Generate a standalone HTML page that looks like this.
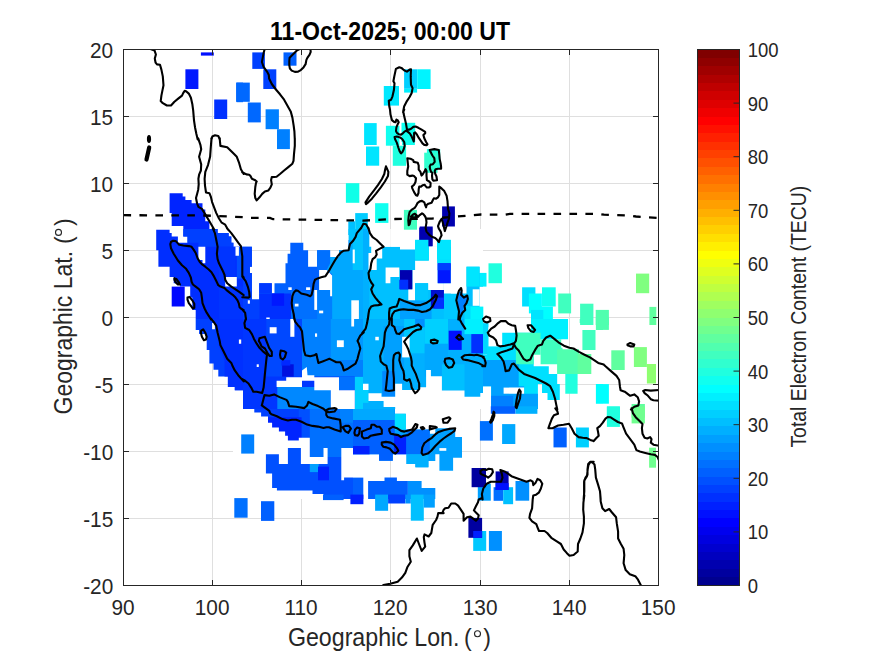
<!DOCTYPE html><html><head><meta charset="utf-8"><style>html,body{margin:0;padding:0;background:#fff;width:875px;height:656px;overflow:hidden}svg{display:block}text{font-family:"Liberation Sans",sans-serif}</style></head><body><svg width="875" height="656" viewBox="0 0 875 656"><rect width="875" height="656" fill="#fff"/><defs><clipPath id="ax"><rect x="123.5" y="49.5" width="535" height="536"/></clipPath></defs><path d="M212.5 49.5V585.5M301.5 49.5V585.5M390.5 49.5V585.5M480.5 49.5V585.5M569.5 49.5V585.5M123.5 116.5H658.5M123.5 183.5H658.5M123.5 250.5H658.5M123.5 317.5H658.5M123.5 384.5H658.5M123.5 451.5H658.5M123.5 518.5H658.5" stroke="#dfdfdf" stroke-width="1" fill="none"/><g clip-path="url(#ax)"><defs><clipPath id="c0"><rect x="123" y="139" width="120" height="90"/></clipPath><clipPath id="c1"><rect x="123" y="229" width="120" height="90"/></clipPath><clipPath id="c2"><rect x="243" y="229" width="120" height="90"/></clipPath><clipPath id="c3"><rect x="363" y="229" width="120" height="90"/></clipPath><clipPath id="c4"><rect x="123" y="319" width="120" height="90"/></clipPath><clipPath id="c5"><rect x="243" y="319" width="120" height="90"/></clipPath><clipPath id="c6"><rect x="363" y="319" width="120" height="90"/></clipPath><clipPath id="c7"><rect x="483" y="319" width="120" height="90"/></clipPath><clipPath id="c8"><rect x="233" y="409" width="120" height="90"/></clipPath><clipPath id="c9"><rect x="353" y="409" width="120" height="90"/></clipPath></defs><rect x="200.9" y="52.4" width="12.9" height="3.2" fill="#0010ff"/><rect x="185.4" y="69.3" width="13" height="19.7" fill="#0018ff"/><rect x="214.2" y="99.5" width="13" height="19.5" fill="#0030ff"/><rect x="236.6" y="82.6" width="6.4" height="19.6" fill="#0068ff"/><rect x="252.3" y="52.4" width="12.6" height="16.5" fill="#0040ff"/><rect x="263.3" y="69.3" width="13" height="19.7" fill="#0040ff"/><rect x="283.5" y="52.4" width="13" height="13.3" fill="#0060ff"/><rect x="236.1" y="82.6" width="13.7" height="19.2" fill="#0068ff"/><rect x="247.8" y="102.5" width="13" height="19.9" fill="#0068ff"/><rect x="265.6" y="109.3" width="13.3" height="19.9" fill="#0080ff"/><rect x="277" y="129.2" width="12.9" height="19.9" fill="#0080ff"/><rect x="404.1" y="69.3" width="13" height="19.5" fill="#00cfff"/><rect x="404.1" y="88.8" width="13" height="3.8" fill="#00efff"/><rect x="417.2" y="69.3" width="13.4" height="19.7" fill="#00f4ff"/><rect x="383.8" y="86" width="15.2" height="19.6" fill="#00e8ff"/><rect x="364.1" y="123.1" width="12.6" height="21.9" fill="#00e5ff"/><rect x="386" y="125.8" width="13.3" height="19.2" fill="#18ffe7"/><rect x="402.1" y="123.1" width="12.8" height="21.9" fill="#10fff0"/><g clip-path="url(#c0)"><path d="M169.6 193.2 182.7 193.2 182.7 196.6 185.4 196.6 185.4 200 191.6 200 191.6 203.2 202.5 203.2 202.5 209.6 205.3 209.6 205.3 221.3 209.4 221.3 209.4 235 183.3 235 183.3 226.1 171.7 226.1 171.7 213.1 169.6 213.1Z" fill="#0024ff"/></g><rect x="345.9" y="183.2" width="13.4" height="19.6" fill="#10ffe8"/><rect x="348.3" y="221.3" width="6.9" height="13.7" fill="#00c0ff"/><rect x="355.2" y="213.1" width="12.6" height="21.9" fill="#00ccff"/><rect x="366" y="146.5" width="13.2" height="19.2" fill="#00e5ff"/><rect x="375.1" y="203.2" width="13.3" height="19.7" fill="#10fff0"/><g clip-path="url(#c1)"><path d="M156.2 229.7 169.6 229.7 169.6 233.1 171.7 233.1 171.7 236.5 177.9 236.5 177.9 242.7 187.5 242.7 187.5 236.5 183.3 236.5 183.3 227.6 210.8 227.6 210.8 229 217.6 229 217.6 233.1 228.6 233.1 228.6 236.5 231.3 236.5 231.3 242.7 233.4 242.7 233.4 246.8 245.1 246.8 245.1 320.9 195.7 320.9 195.7 309.9 192.3 309.9 192.3 297.6 190.2 297.6 190.2 286.6 179.9 286.6 179.9 283.2 173.7 283.2 173.7 277 169.6 277 169.6 266.7 158.4 266.7 158.4 250.3 156.2 250.3Z" fill="#002eff"/><path d="M183.3 227.6 210.8 227.6 210.8 229 217.6 229 217.6 233.1 228.6 233.1 228.6 236.5 231.3 236.5 231.3 242.7 233.4 242.7 233.4 246.8 198.4 246.8 198.4 242.7 187.5 242.7 187.5 236.5 183.3 236.5Z" fill="#0040ff"/><path d="M217.6 246.8 235.5 246.8 235.5 286.6 219 286.6 219 270.1 217.6 270.1Z" fill="#0034ff"/><path d="M236.8 246.8 245.1 246.8 245.1 278.4 236.8 278.4Z" fill="#0050ff"/><path d="M219 286.6 245.1 286.6 245.1 320.9 219 320.9Z" fill="#0034ff"/><path d="M198.4 246.8 205.3 246.8 205.3 263.3 202.5 263.3 202.5 259.9 198.4 259.9Z" fill="#ffffff"/><path d="M225.2 277 236.8 277 236.8 286.6 225.2 286.6Z" fill="#ffffff"/><path d="M235.5 246.8 238.9 246.8 238.9 255.7 235.5 255.7Z" fill="#ffffff"/></g><rect x="171.7" y="286.6" width="13" height="19.9" fill="#0008ff"/><g clip-path="url(#c2)"><path d="M285.5 263.3 287.6 263.3 287.6 253.7 290.3 253.7 290.3 242.7 303.3 242.7 303.3 250.3 308.1 250.3 308.1 266.7 317.1 266.7 317.1 250.3 330.1 250.3 330.1 257.1 339 257.1 339 250.3 348.6 250.3 348.6 240 353.4 240 353.4 227.6 365.1 227.6 365.1 320.9 241.6 320.9 241.6 246.8 251.9 246.8 251.9 266.7 249.9 266.7 249.9 272.9 251.9 272.9 251.9 299.6 259.2 299.6 259.2 283.2 271.8 283.2 271.8 293.5 274.5 293.5 274.5 283.2 285.5 283.2Z" fill="#0060ff"/><path d="M241.6 246.8 251.9 246.8 251.9 266.7 249.9 266.7 249.9 272.9 251.9 272.9 251.9 299.6 259.2 299.6 259.2 320.9 241.6 320.9Z" fill="#0040ff"/><path d="M259.2 293.5 291 293.5 291 320.9 259.2 320.9Z" fill="#0030ff"/><path d="M259.2 283.2 271.8 283.2 271.8 293.5 259.2 293.5Z" fill="#0038ff"/><path d="M271.8 293.5 284.1 293.5 284.1 305.8 271.8 305.8Z" fill="#0018ff"/><path d="M317.1 250.3 330.1 250.3 330.1 270.1 317.1 270.1Z" fill="#0070ff"/><path d="M291 290.7 317.1 290.7 317.1 320.9 291 320.9Z" fill="#0070ff"/><path d="M317.1 290 332.1 290 332.1 320.9 317.1 320.9Z" fill="#0080ff"/><path d="M330.1 257.1 339 257.1 339 250.3 348.6 250.3 348.6 240 353.4 240 353.4 227.6 365.1 227.6 365.1 320.9 332.1 320.9 332.1 274.3 326.7 270.1 330.1 263.3Z" fill="#00a8ff"/><path d="M348.6 227.6 365.1 227.6 365.1 270.1 352.7 270.1 352.7 240 348.6 240Z" fill="#00c4ff"/><path d="M319.1 270.1 326.7 270.1 332.1 275.6 332.1 296.2 330.1 296.2 330.1 290 319.1 290Z" fill="#ffffff"/><path d="M314.3 290 317.1 290 317.1 309.9 314.3 309.9Z" fill="#ffffff"/><path d="M288.3 287.3 291.7 287.3 291.7 290 288.3 290Z" fill="#ffffff"/><path d="M306.1 287.3 310.2 287.3 310.2 290 306.1 290Z" fill="#ffffff"/><path d="M294.8 303.7 298.5 303.7 298.5 306.5 294.8 306.5Z" fill="#ffffff"/><path d="M319.1 310.6 323.2 310.6 323.2 313.3 319.1 313.3Z" fill="#ffffff"/><path d="M351.3 300.3 358.9 300.3 358.9 320.9 351.3 320.9Z" fill="#ffffff"/><path d="M352.7 249.6 354.8 249.6 354.8 263.3 352.7 263.3Z" fill="#ffffff"/><path d="M247.8 300.3 249.9 300.3 249.9 303.7 247.8 303.7Z" fill="#ffffff"/><path d="M266.3 317.5 269.7 317.5 269.7 320.9 266.3 320.9Z" fill="#ffffff"/></g><g clip-path="url(#c3)"><path d="M361.6 227.6 369.2 227.6 369.2 246.8 485.1 246.8 485.1 320.9 361.6 320.9Z" fill="#00c0ff"/><path d="M361.6 227.6 369.2 227.6 369.2 320.9 361.6 320.9Z" fill="#00b0ff"/><path d="M400 300.3 431.6 300.3 431.6 320.9 400 320.9Z" fill="#00a0ff"/><path d="M443.9 293.5 457.6 293.5 457.6 320.9 443.9 320.9Z" fill="#00c8ff"/><path d="M464.5 305.8 485.1 305.8 485.1 320.9 464.5 320.9Z" fill="#00d8ff"/><path d="M369.2 227.6 390.4 227.6 390.4 246.8 382.2 246.8 382.2 258.5 376.7 258.5 376.7 270.1 368.5 270.1 368.5 253 371.2 253 371.2 237.2 369.2 234.5Z" fill="#ffffff"/><path d="M390.4 227.6 419.2 227.6 419.2 240 415.1 240 415.1 249.6 400 249.6 400 246.8 390.4 246.8Z" fill="#ffffff"/><path d="M432.3 227.6 485.1 227.6 485.1 272.9 479.6 272.9 479.6 266.7 466.5 266.7 466.5 293.5 450.8 293.5 450.8 240 437.1 240 437.1 246.8 432.3 246.8Z" fill="#ffffff"/><path d="M428.8 246.8 437.7 246.8 437.7 283.2 443.9 283.2 443.9 290 428.1 290 428.1 283.2 415.1 283.2 415.1 300.3 408.3 300.3 408.3 289.3 412.4 289.3 412.4 270.1 415.1 270.1 415.1 260.5 428.8 260.5Z" fill="#ffffff"/><path d="M385.6 267.4 399.3 267.4 399.3 277 390.4 277 390.4 283.2 385.6 283.2Z" fill="#ffffff"/><path d="M443.9 283.2 457.6 283.2 457.6 293.5 443.9 293.5Z" fill="#ffffff"/><path d="M472.7 289.3 479.6 289.3 479.6 305.8 472.7 305.8Z" fill="#ffffff"/><path d="M479.6 286.6 485.1 286.6 485.1 320.9 479.6 320.9Z" fill="#ffffff"/><path d="M459 292.1 461.7 290.7 463.8 297.6 467.2 295.5 467.9 298.9 464.5 305.8 462.4 312.7 460.4 316.8 459 311.3 457.6 305.8 457.6 294.8Z" fill="#0080ff"/></g><rect x="415.1" y="240" width="13.7" height="20.6" fill="#00e0ff"/><rect x="437.1" y="240" width="13.7" height="23.3" fill="#00e2ff"/><rect x="466.5" y="266.7" width="13" height="19.9" fill="#00e5ff"/><rect x="479.6" y="272.9" width="6.9" height="13.7" fill="#00f0ff"/><rect x="415.1" y="283.2" width="13" height="17.1" fill="#00c8ff"/><rect x="419.2" y="227.6" width="13" height="18.5" fill="#0000bf"/><rect x="419.2" y="240" width="9.6" height="6.2" fill="#0028ff"/><rect x="400" y="270.1" width="12.3" height="19.2" fill="#0000af"/><rect x="399.3" y="279.7" width="8.9" height="9.6" fill="#0030ff"/><rect x="437.7" y="263.3" width="13" height="19.9" fill="#0018ff"/><rect x="437.7" y="263.3" width="13" height="6.9" fill="#0040ff"/><rect x="430.9" y="290" width="13" height="18.5" fill="#0010cf"/><rect x="434.3" y="297.6" width="9.6" height="11" fill="#0030ff"/><rect x="470.5" y="306.6" width="12.8" height="20" fill="#00f5ff"/><rect x="488.5" y="263.3" width="13.4" height="19.9" fill="#20ffdf"/><rect x="522.1" y="287.3" width="13.3" height="19.2" fill="#00dfff"/><rect x="542" y="287.3" width="13.7" height="19.2" fill="#10ffef"/><rect x="528.9" y="293.5" width="13" height="19.9" fill="#00ffff"/><rect x="539.9" y="306.5" width="13" height="18.5" fill="#00ffff"/><rect x="531" y="309.9" width="12.3" height="15.1" fill="#00e5ff"/><rect x="558.2" y="293.5" width="12.9" height="19.9" fill="#40ffbf"/><rect x="580.1" y="303.7" width="13.3" height="21.3" fill="#40ffbf"/><rect x="595.7" y="309.9" width="13.2" height="15.1" fill="#50ffaf"/><rect x="636" y="273.6" width="13.2" height="19.6" fill="#80ff80"/><rect x="649.4" y="306.9" width="6.9" height="18.1" fill="#60ff9f"/><g clip-path="url(#c4)"><path d="M195.7 317.6 195.7 330 199.1 330 199.1 334.1 206.7 334.1 206.7 349.9 209.4 349.9 209.4 363.6 213.5 363.6 213.5 369.7 218.3 369.7 218.3 376.6 227.9 376.6 227.9 386.9 234.8 386.9 234.8 390.3 245.1 390.3 245.1 317.6Z" fill="#0040ff"/><path d="M213.5 317.6 245.1 317.6 245.1 390.3 234.8 390.3 234.8 386.9 227.9 386.9 227.9 376.6 224.5 376.6 224.5 360.1 219 346.4 217.6 332.7Z" fill="#0030ff"/><path d="M212.1 323.1 214.9 323.1 214.9 329.3 212.1 329.3Z" fill="#ffffff"/><path d="M238.9 339.6 241.2 339.6 241.2 343.7 238.9 343.7Z" fill="#ffffff"/></g><g clip-path="url(#c5)"><path d="M241.6 317.6 365.1 317.6 365.1 410.9 241.6 410.9Z" fill="#0036ff"/><path d="M266.3 317.6 302 317.6 302 376.6 266.3 376.6Z" fill="#0048ff"/><path d="M302 317.6 365.1 317.6 365.1 376.6 302 376.6Z" fill="#0080ff"/><path d="M330.8 317.6 365.1 317.6 365.1 360.1 330.8 360.1Z" fill="#0098ff"/><path d="M282.1 364.3 293.7 364.3 293.7 376.6 282.1 376.6Z" fill="#0010df"/><path d="M281.4 360.1 290.3 360.1 290.3 365.6 281.4 365.6Z" fill="#0028ff"/><path d="M277.3 386.9 330.8 386.9 330.8 410.9 277.3 410.9Z" fill="#0088ff"/><path d="M339 376.6 354.8 376.6 354.8 390.3 339 390.3Z" fill="#0070ff"/><path d="M354.8 376.6 365.1 376.6 365.1 410.9 354.8 410.9Z" fill="#00d0ff"/><path d="M276.6 380.7 286.2 380.7 286.2 377.3 302 377.3 302 370.4 306.8 367 307.5 375.2 314.3 375.2 314.3 377.3 339 377.3 339 390.3 354.8 390.3 354.8 410.9 330.8 410.9 330.8 390.3 314.3 390.3 314.3 380.7 302 380.7 302 386.9 276.6 386.9Z" fill="#ffffff"/><path d="M269.7 327.2 276.6 327.2 276.6 333.4 269.7 333.4Z" fill="#ffffff"/><path d="M290.3 317.6 294.4 317.6 294.4 336.8 290.3 336.8Z" fill="#ffffff"/><path d="M315 333.4 317.1 333.4 317.1 336.8 315 336.8Z" fill="#ffffff"/><path d="M336.9 340.3 343.8 340.3 343.8 347.1 336.9 347.1Z" fill="#ffffff"/><path d="M351.3 317.6 354.1 317.6 354.1 326.5 351.3 326.5Z" fill="#ffffff"/><path d="M256.7 364.3 258.8 364.3 258.8 367 256.7 367Z" fill="#ffffff"/></g><g clip-path="url(#c6)"><path d="M361.6 317.6 485.1 317.6 485.1 410.9 361.6 410.9Z" fill="#00b0ff"/><path d="M383.6 325.9 404.1 325.9 404.1 383.5 383.6 383.5Z" fill="#00a0ff"/><path d="M382.2 371.1 395.2 371.1 395.2 396.8 382.2 396.8Z" fill="#0088ff"/><path d="M404.1 317.6 424.7 317.6 424.7 353.3 404.1 353.3Z" fill="#00c8ff"/><path d="M415.1 317.6 426.1 317.6 426.1 327.2 415.1 327.2Z" fill="#0090ff"/><path d="M424.7 317.6 448 317.6 448 346.4 424.7 346.4Z" fill="#00d0ff"/><path d="M424.7 343.7 448 343.7 448 376.6 424.7 376.6Z" fill="#00a8ff"/><path d="M464.5 317.6 485.1 317.6 485.1 334.1 464.5 334.1Z" fill="#00f0ff"/><path d="M441.9 364.3 464.5 364.3 464.5 390.3 441.9 390.3Z" fill="#00c0ff"/><path d="M361.6 389.9 368.5 389.9 368.5 402.9 361.6 402.9Z" fill="#00d0ff"/><path d="M361.6 383.7 368.5 383.7 368.5 393.3 381.5 393.3 381.5 396.8 395.2 396.8 395.2 383.7 402.1 383.7 402.1 389.9 419.2 389.9 419.2 387.2 426.1 387.2 426.1 370 430.9 370 430.9 376.2 441.9 376.2 441.9 390.6 464.5 390.6 464.5 396.8 480.3 396.8 480.3 393.1 485.1 393.1 485.1 410.9 395.2 410.9 395.2 407 383.6 407 383.6 400.9 368.5 400.9 368.5 389.9 361.6 389.9Z" fill="#ffffff"/><path d="M375.3 336.8 378.8 336.8 378.8 340.3 375.3 340.3Z" fill="#ffffff"/><path d="M402.1 336.8 409.6 336.8 409.6 357.4 402.1 357.4Z" fill="#ffffff"/></g><rect x="448.7" y="330.7" width="13" height="19.2" fill="#0010ff"/><rect x="471.3" y="334.1" width="13.7" height="19.2" fill="#0030ff"/><g clip-path="url(#c7)"><path d="M481.6 323.1 488.5 323.1 488.5 354.7 481.6 354.7Z" fill="#00d8ff"/><path d="M487.1 332.7 533.7 332.7 533.7 366.3 548.8 366.3 548.8 373.9 557.1 373.9 557.1 384.1 537.9 384.1 537.9 409 491.2 409 491.2 386.2 481.6 386.2 481.6 354.7 487.1 354.7Z" fill="#00e0ff"/><path d="M481.6 360.1 518.7 360.1 518.7 386.2 524.1 386.2 524.1 393.7 537.9 393.7 537.9 410.9 491.2 410.9 491.2 386.2 481.6 386.2Z" fill="#00a0ff"/><path d="M491.2 395.8 513.2 395.8 513.2 410.9 491.2 410.9Z" fill="#0080ff"/><path d="M503.6 387.6 524.1 387.6 524.1 393.7 503.6 393.7Z" fill="#ffffff"/><path d="M502.2 333.4 515.9 333.4 515.9 346.4 502.2 346.4Z" fill="#00e5ff"/><path d="M531 317.6 568 317.6 568 339.6 531 339.6Z" fill="#00f0ff"/><path d="M515.9 332.7 540.6 332.7 540.6 354.7 533.7 354.7 533.7 364.3 515.9 364.3Z" fill="#40ffbf"/><path d="M540.6 339.6 562.5 339.6 562.5 364.3 540.6 364.3Z" fill="#40ffbf"/><path d="M557.1 349.2 579 349.2 579 373.9 557.1 373.9Z" fill="#50ffaf"/><path d="M577.6 354 591.3 354 591.3 373.9 577.6 373.9Z" fill="#60ff9f"/><path d="M582.4 330 595.5 330 595.5 349.9 582.4 349.9Z" fill="#40ffbf"/><path d="M579.7 317.6 592.7 317.6 592.7 323.1 579.7 323.1Z" fill="#40ffbf"/><path d="M596.1 317.6 605.1 317.6 605.1 330 596.1 330Z" fill="#40ffbf"/><path d="M565.3 373.9 577.6 373.9 577.6 393.7 565.3 393.7Z" fill="#20ffdf"/><path d="M596.1 384.1 605.1 384.1 605.1 403.3 596.1 403.3Z" fill="#00ffff"/><path d="M537.9 373.9 557.1 373.9 557.1 384.1 559.8 384.1 559.8 399.9 547.5 399.9 547.5 393.1 542 393.1 542 384.1 537.9 384.1Z" fill="#00e0ff"/><path d="M561.2 339.6 568 339.6 568 347.8 561.2 347.8Z" fill="#ffffff"/><path d="M488.5 327.2 502.2 327.2 502.2 346.4 488.5 346.4Z" fill="#ffffff"/></g><rect x="595.9" y="317.6" width="13" height="12.3" fill="#50ffaf"/><rect x="611.3" y="350.3" width="13.4" height="19.7" fill="#60ff9f"/><rect x="633.9" y="347.1" width="13" height="19.9" fill="#80ff80"/><rect x="646.9" y="364" width="9.1" height="19.5" fill="#8fff70"/><rect x="595.9" y="384.1" width="13" height="19.6" fill="#00ffff"/><rect x="606.9" y="406.8" width="13" height="11" fill="#00ffff"/><rect x="631.6" y="404" width="13.3" height="13.7" fill="#60ff9f"/><g clip-path="url(#c8)"><path d="M248.1 407.6 355.1 407.6 355.1 500.9 248.1 500.9Z" fill="#0050ff"/><path d="M248.1 407.6 298.8 407.6 298.8 440.5 248.1 440.5Z" fill="#0040ff"/><path d="M268 417.2 301.6 417.2 301.6 440.5 285.1 440.5 285.1 431.6 268 431.6Z" fill="#0024ff"/><path d="M309.8 407.6 355.1 407.6 355.1 457 309.8 457Z" fill="#0070ff"/><path d="M340 407.6 355.1 407.6 355.1 422.7 340 422.7Z" fill="#0080ff"/><path d="M309.8 463.9 318.7 463.9 318.7 472.1 309.8 472.1Z" fill="#00a0ff"/><path d="M318 466.6 329 466.6 329 480.3 318 480.3Z" fill="#0020ff"/><path d="M248.1 407.6 254.3 407.6 254.3 412.4 261.1 412.4 261.1 416.5 268 416.5 268 422.7 272.1 422.7 272.1 427.5 278.9 427.5 278.9 431.6 285.1 431.6 285.1 435.7 287.9 435.7 287.9 440.5 298.8 440.5 298.8 437.8 309.8 437.8 309.8 457 323.5 457 323.5 448.1 327.6 448.1 327.6 463.9 300.9 463.9 300.9 448.1 287.9 448.1 287.9 463.9 278.9 463.9 278.9 454.3 265.9 454.3 265.9 473.5 272.1 473.5 272.1 487.9 276.9 487.9 276.9 490.6 312.5 490.6 312.5 494 323.5 494 323.5 500.9 231.6 500.9 231.6 407.6Z" fill="#ffffff"/><path d="M341.3 448.1 355.1 448.1 355.1 477.6 344.1 477.6 344.1 480.3 341.3 480.3Z" fill="#ffffff"/></g><rect x="241.2" y="434.4" width="13" height="19.2" fill="#0080ff"/><g clip-path="url(#c9)"><path d="M351.6 407.6 394.8 407.6 394.8 413.8 405.8 413.8 405.8 429.6 429.8 429.6 429.8 433.7 435.3 433.7 435.3 428.2 455.2 428.2 455.2 437.1 462 437.1 462 457.7 453.1 457.7 453.1 470.7 439.4 470.7 439.4 454.3 435.3 454.3 435.3 461.1 428.4 461.1 428.4 467.3 415.4 467.3 415.4 463.9 406.5 463.9 406.5 454.3 392.8 454.3 392.8 460.8 379.1 460.8 379.1 454.3 351.6 454.3Z" fill="#00a0ff"/><path d="M351.6 407.6 394.8 407.6 394.8 454.3 392.8 454.3 392.8 460.8 379.1 460.8 379.1 454.3 351.6 454.3Z" fill="#0060ff"/><path d="M351.6 407.6 394.8 407.6 394.8 420 351.6 420Z" fill="#00a8ff"/><path d="M351.6 446 369.5 446 369.5 454.3 351.6 454.3Z" fill="#0020ff"/><path d="M394.1 435.1 406.5 435.1 406.5 454.3 394.1 454.3Z" fill="#0020ff"/><path d="M394.8 413.8 405.8 413.8 405.8 429.6 394.8 429.6Z" fill="#00e0ff"/><path d="M406.5 429.6 429.8 429.6 429.8 454.3 406.5 454.3Z" fill="#0070ff"/><path d="M406.5 454.3 428.4 454.3 428.4 467.3 415.4 467.3 415.4 463.9 406.5 463.9Z" fill="#00b0ff"/><path d="M439.4 448.1 446.3 448.1 446.3 450.8 439.4 450.8Z" fill="#ffffff"/><path d="M351.6 477.6 363.3 477.6 363.3 500.9 351.6 500.9Z" fill="#0060ff"/><path d="M368.1 481 384.5 481 384.5 477.6 396.9 477.6 396.9 481 407.9 481 407.9 500.9 368.1 500.9Z" fill="#0060ff"/><path d="M407.9 481 421.6 481 421.6 487.9 435.3 487.9 435.3 500.9 407.9 500.9Z" fill="#0090ff"/></g><rect x="490.8" y="406.3" width="24.7" height="7.5" fill="#0060ff"/><rect x="515.5" y="406.3" width="21.9" height="7.5" fill="#00b0ff"/><rect x="479.9" y="421.1" width="13" height="19.5" fill="#0070ff"/><rect x="502.1" y="424.1" width="13.2" height="19.9" fill="#00a8ff"/><rect x="553.5" y="427.5" width="13.2" height="19.9" fill="#0060ff"/><rect x="575.9" y="427.5" width="13" height="19.9" fill="#00d0ff"/><rect x="477.8" y="483.7" width="13" height="17" fill="#00a0ff"/><rect x="493.6" y="487.2" width="9.6" height="13.6" fill="#0070ff"/><rect x="503.2" y="487.2" width="9.9" height="17" fill="#00c0ff"/><rect x="515.5" y="481" width="13.7" height="19.7" fill="#0090ff"/><rect x="471.6" y="468" width="14.4" height="19.2" fill="#0000a0"/><rect x="495.6" y="471.4" width="13" height="18.5" fill="#0000af"/><rect x="495.6" y="483.1" width="13" height="6.9" fill="#0010ff"/><rect x="606.9" y="406.3" width="13" height="20.6" fill="#20ffdf"/><rect x="631.6" y="406.3" width="13.3" height="17.1" fill="#70ff8f"/><rect x="649.1" y="447.7" width="6.9" height="20" fill="#70ff8f"/><rect x="234.3" y="498.1" width="13.3" height="19.6" fill="#0070ff"/><rect x="261" y="501.2" width="13.3" height="19.7" fill="#0060ff"/><rect x="323" y="494.6" width="20.6" height="5.5" fill="#0060ff"/><rect x="350.4" y="494.6" width="13" height="9.6" fill="#0020ff"/><rect x="375.1" y="494.6" width="13" height="16.2" fill="#00a8ff"/><rect x="388.1" y="494.6" width="17.1" height="8.9" fill="#0040ff"/><rect x="405.3" y="494.6" width="5.5" height="8.9" fill="#0090ff"/><rect x="410.8" y="494.6" width="13" height="26.1" fill="#00c0ff"/><rect x="423.8" y="494.6" width="11" height="13" fill="#00a0ff"/><rect x="473.2" y="531" width="13" height="19.9" fill="#00c8ff"/><rect x="468.4" y="517.9" width="13.7" height="19.9" fill="#0000a0"/><rect x="473.2" y="531" width="8.9" height="6.9" fill="#0020ff"/><rect x="488.9" y="531" width="13" height="19.9" fill="#0090ff"/><rect x="385.9" y="126" width="13.3" height="19.7" fill="#10fff0"/><rect x="392.8" y="145.7" width="13.3" height="20.1" fill="#20ffdf"/><rect x="401.5" y="122.8" width="13.7" height="19.2" fill="#10fff0"/><rect x="426.9" y="149.1" width="13.3" height="19.2" fill="#20ffe0"/><rect x="424.2" y="152.7" width="13.3" height="20.1" fill="#30ffcf"/><rect x="403.9" y="209.9" width="13.1" height="19.8" fill="#40ffbf"/><rect x="419.7" y="226.5" width="13" height="19.7" fill="#0000af"/><rect x="442.1" y="206.4" width="12.8" height="20.1" fill="#0000af"/><rect x="415.1" y="239.8" width="13.3" height="19.2" fill="#00e5ff"/><rect x="437.1" y="239.8" width="13.7" height="19.2" fill="#00e5ff"/><path d="M150.4 49 152.5 49.7 154.5 50.4 155.9 54.5 154.8 58.6 155.6 62.7 157 64.4 160 64.8 161.4 69.6 162.8 76.4 163.5 85.3 162.5 90.1 161.4 95.6 160.7 101.1 162.8 103.2 166.9 105.5 171 105.5 174.4 101.8 178.5 98.4 182 95.6 183.3 92.9 184.7 90.8 186.1 91.2 188.8 93.6 190.9 97.7 192.3 103.9 193.2 110.7 194 120.3 195 127.2 196.4 134 197.7 139.5 M264.7 49 263.6 53.1 261.9 62 263.6 66.8 267 71.6 268.8 75.1 269.1 78.5 271.8 84 275.9 89.5 280 94.3 284.1 99.7 287.6 105.9 290.7 111.4 292.4 117.6 293.7 125.8 294.4 131.3 294.8 139.5 M403.6 109.5 403 112.1 404.1 106.6 406.9 101.1 409.6 97 411.7 92.9 412.6 88.1 411 84.7 410.7 76.4 411 69.3 409.6 69.6 406.9 71.6 404.1 70.3 401.4 67.9 399.3 67.2 395.9 68.9 394.3 76.4 393.4 81.2 394.5 83.3 393.9 90.1 392.5 96.3 391.1 99.7 388.8 100.8 389.3 106.6 390 109.5 M198.2 138.3 200.5 145.2 201.2 149.3 199.1 156.8 201.2 164.4 200.9 170.5 199.1 174.7 198.4 178.8 198.7 184.3 198.2 189.7 197.1 193.9 196 198 197.1 203.5 198.4 206.9 201.9 208.9 205.3 214.4 209.4 221.3 214.2 229.5 M211.5 138.3 210.8 147.2 210.1 156.8 208 165.1 205.3 171.9 204.6 178.8 205 185.6 206 192.5 209.4 193.2 210.8 196.6 212.1 202.1 214.2 207.6 216.3 213.1 219 218.5 221.7 222.7 225.2 224.7 227.9 229.5 M219.7 138.3 220.4 145.9 227.2 147.2 231.3 151.3 234.1 154.1 236.8 156.8 238.9 162.3 240.9 169.2 243.7 174 M294.8 138.3 294.8 145.9 294 154.1 293.5 160.9 292.4 163.7 288.3 167.1 284.1 170.5 280 174 276.6 176.7 271.8 177.1 271.1 180.1 271.8 184.3 270.4 187.7 268.4 190.4 264.9 191.5 262.2 193.9 259.5 197.3 256.7 200.4 255.3 198 254.7 193.9 255.3 187 256 182.9 256.7 181.5 254.7 179.9 251.9 178.8 250.5 176 249.2 174.7 246.4 174.4 242.3 172.3 M386 166.4 388.4 171.9 388 176 384.9 181.5 380.8 187.3 376 193.6 371.9 198.7 368.5 202.1 366 204.1 365.5 202.4 369.2 196.6 374 190.4 378.1 184.9 381.9 179 384.3 174 385.2 169.2 386 166.4 M171 242 170.3 244.1 171 248.2 173.7 253.7 177.9 260.5 182 265.3 186.1 268.8 188.8 272.9 190.9 277.7 191.6 281.8 192.9 284.5 195.7 286.6 199.1 289.3 201.2 292.8 201.9 297.6 202.5 303.1 204.6 308.5 206.7 312.7 209.4 316.8 211 319.5 M171 242 173.1 240.7 175.8 241.1 177.9 243.4 179.2 244.8 183.3 245.5 188.8 246.1 191.6 246.8 193.6 249.6 195.7 253 197.7 258.5 199.8 261.9 202.5 264.7 205.3 266.7 208.7 269.5 211.5 272.2 213.5 275.6 216.3 281.1 218.3 285.2 220.4 286.6 224.5 288 227.2 290.7 230 292.8 232.7 294.8 235.5 297.6 237.5 300.3 238.9 303.7 239.6 307.2 240.9 308.5 243.7 310.2 M212.8 228.3 214.9 233.1 216.3 240 217.6 246.8 216.9 253.7 217.6 259.2 219 263.3 221.1 267.4 223.1 271.5 224.5 274.9 225.2 279.7 227.2 283.2 231.3 286.6 235.5 289.3 239.6 292.1 243.7 295.1 M227 228.3 231.3 233.1 234.8 237.9 238.2 242.7 240.9 246.1 242.3 256.4 242.3 267.4 242.3 275.6 243.7 277.3 M174.4 278.4 176.5 279.1 178.5 281.8 179.9 284.5 177.9 284.5 175.8 282.5 174.4 279.7 174.4 278.4 M187.5 297.6 189.5 296.9 192.3 300.3 194.3 303.7 194.3 307.9 192.9 308.5 190.9 305.8 188.8 303.1 187.5 299.6 187.5 297.6 M242.3 276.7 245.7 281.1 247.8 286.6 249.2 292.1 249.6 296.9 248.5 297.6 242.3 297.2 M242.3 309.6 245.1 312.7 246 319.5 M360.9 228.3 356.8 233.1 355.5 237.2 352.7 241.3 350 244.1 349.3 246.8 348.6 250.3 343.8 250.7 341.1 252.3 337.6 256.4 334.9 260.5 332.1 265.3 329.4 270.1 325.3 276.3 321.2 277.3 317.7 278.4 315 279.7 313.6 283.9 312.9 289.3 311.6 294.8 310.2 296.2 306.8 294.8 301.3 293.5 297.9 290.7 295.8 290.4 293.7 292.8 292.4 296.2 291.7 303.1 292.4 308.5 293.7 314 294.4 319.5 M368.5 228.3 369.9 233.1 372.6 237.2 376.7 240 380.1 243.4 383.6 246.8 379.5 248.9 376 250.9 376.7 254.4 375.3 257.1 372.6 259.2 371.2 263.3 370.5 268.8 368.5 272.9 369.2 278.4 371.2 282.5 373.3 285.2 371.2 289.3 372.6 293.5 375.3 297.6 378.1 301 381.5 304.4 378.1 305.1 374 305.5 371.2 306.5 369.2 309.9 368.5 314 367.8 319.5 M389.1 319.5 389.1 312.7 389.7 308.5 392.5 307.2 396.6 306.5 398 303.1 399.3 298.9 404.1 301 409.6 303.1 415.1 305.1 420.6 305.1 426.1 303.1 430.2 300.3 434.3 296.9 435.7 294.6 437.1 296.2 435.7 300.3 432.9 305.8 430.2 309.2 426.1 311.3 422 312 417.9 310.6 413.7 309.9 408.3 309.9 403.5 309.2 398.7 309.9 394.5 311.3 392.5 314 391.1 319.5 M458.3 319.5 459 311.3 457.6 305.8 456.3 300.3 457.6 294.8 459 290.7 461.1 288 461.7 290.7 461.1 294.8 463.8 297.6 467.2 295.5 467.9 298.9 466.5 303.1 464.5 305.8 465.2 309.9 462.4 312.7 460.4 316.8 459.7 319.5 M210.8 318.3 213.5 321.7 216.3 325.9 217.6 332.7 219.7 340.9 220.4 345.1 223.1 350.5 227.2 358.8 231.3 362.9 232.7 366.3 234.8 370.4 238.2 375.2 243.7 381.4 M201.2 330.7 203.2 329.3 205.3 332.7 206.7 336.8 206 339.6 203.9 340.3 201.9 336.8 200.9 332.7 201.2 330.7 M246 318.3 244.4 323.1 245.1 327.9 249.2 330 251.9 334.1 254 338.9 256.7 343.7 259.5 347.8 263.6 351.9 267 354.7 266.3 360.1 265.6 367 264.9 373.9 264.3 380.7 263.6 387.6 262.2 393.1 256.7 391.7 253.3 391.7 251.2 387.6 248.5 383.5 245.1 380.7 242.3 379.1 M259.5 338.2 264.9 336.8 267 342.3 269.1 347.8 271.8 351.9 271.8 356 269.7 356 267.7 353.3 264.9 348.5 261.5 346.4 260.1 343 258.8 340.9 259.5 338.2 M280.7 350.5 284.1 351.2 286.2 352.6 284.8 357.4 282.8 359.5 280.7 358.1 280 354.7 280.7 350.5 M294.4 318.3 295.1 321.7 297.9 325.2 299.9 327.2 302 331.3 302.7 338.2 303.3 343.7 304 350.5 305.4 355.3 310.2 356.3 314.3 355.3 316.4 354 317.7 360.1 318.4 362.9 322.5 361.5 326 360.1 329.4 358.8 332.1 360.1 336.3 362.2 340.4 362.2 342.4 365.6 343.8 370.4 347.2 369.1 351.3 366.3 355.5 363.6 357.5 358.8 358.9 353.3 360.3 348.5 358.9 343.7 357.5 340.9 360.3 335.5 363.7 332.4 M367.8 318.3 367.1 323.1 365.7 328.6 362.3 333 M389.7 318.3 389.1 324.5 386.3 328.6 384.9 332.7 384.3 339.6 383.6 346.4 381.5 351.9 380.1 356 380.8 361.5 383.6 364.3 386.3 365.6 387.7 371.1 387 378 386.3 384.8 385.6 390.3 389.1 391 393.9 390.3 393.9 384.8 393.9 378 393.2 371.1 393.2 360.1 393.9 355.3 395.9 353.3 398.7 352.6 400 354.7 399.3 360.1 401.4 367 403.5 371.1 404.1 375.2 404.1 379.3 406.9 380.7 409.6 379.3 411 383.5 411.7 387.6 413.7 391 415.1 393.1 417.2 391.7 419.2 388.9 419.2 383.5 417.2 378 415.8 373.9 413.7 369.7 411.7 365.6 411.7 361.5 411 357.4 409.6 353.3 408.3 349.2 406.2 345.1 404.1 341.6 406.9 338.2 410.3 334.8 413.1 332 416.5 330 420.6 329.3 421.3 327.2 418.5 324.5 413.7 326.5 408.3 327.9 404.1 329.3 401.4 332 399.3 334.1 396.6 333.4 395.2 330 394.5 327.2 391.8 325.2 391.8 318.3 M430.9 340.3 434.3 339.6 437.7 340.9 437.1 343 432.9 343.4 430.9 342.3 430.9 340.3 M445.3 358.8 449.4 358.1 452.8 359.5 454.2 362.9 452.1 367 448.7 367.7 446 364.9 444.6 361.5 445.3 358.8 M456.3 337.5 459 334.8 463.1 338.9 459 339.6 456.3 337.5 M483.7 357 480.9 356 476.8 354.7 474.1 355.3 470 354.7 464.5 355.3 461.7 357.4 463.1 359.5 467.2 360.1 472.7 361.5 478.2 362.9 483.7 365.9 M459 318.3 461.7 323.1 465.2 328.6 M482.3 356.7 484.4 358.8 485.7 362.9 485.1 366.3 482.3 366.3 M487.8 332.7 491.2 328.6 494.7 326.5 498.1 323.1 500.8 321.1 505.6 321.1 508.4 323.8 511.8 325.2 515.2 325.9 515.9 330 516.6 335.5 515.9 340.9 514.5 343 510.4 344.4 504.9 345.7 500.1 346.4 497.4 345.1 496 340.3 493.3 337.5 489.2 335.5 487.8 332.7 M497.4 354 502.2 351.9 507 350.5 512.5 348.5 513.9 344.4 515.9 347.8 518.7 350.5 521.4 355.3 523.5 358.8 526.9 360.8 530.3 359.5 532.4 354.7 535.1 349.9 537.9 345.7 542 344.4 543.3 340.9 546.1 337.5 550.2 335.7 554.3 338.9 558.4 342.3 563.9 345.7 569.4 347.8 573.5 348.5 579 351.9 584.5 354.7 590 357.4 594.1 360.1 598.2 362.9 603.7 364.5 M497.4 354 500.8 357.4 503.6 361.5 504.9 367 505.6 371.1 509.1 370.4 511.8 364.3 513.9 363.6 518.7 369.7 524.1 373.9 529.6 375.9 535.1 378 540.6 380.7 546.1 383.5 550.2 386.2 552.9 391.7 555 398.5 556.4 405.4 557.3 409.5 M527.6 325.2 531 325.2 535.1 330 533.7 332 531 331.3 528.3 327.9 527.6 325.2 M519.3 389.6 520.7 391.7 520 398.5 518 404 516.6 408.1 515.6 406.8 516.6 399.9 518 393.1 519.3 389.6 M603.6 364.5 605.5 366.3 611 371.1 616.5 375.9 619.2 380 619.9 386.2 620.6 390.3 624.7 391.7 630.2 395.8 634.3 394.4 637.7 397.2 639.1 401.3 638.4 405.4 634.3 406.8 630.9 409.5 M659 390 650.8 390.6 645.3 390 643.2 391 644.6 393.1 648 395.8 650.8 399.2 653.5 400.2 659 400.6 M627.5 344.4 630.2 343 634.3 344.4 633.6 346.4 630.2 346.4 627.5 345.3 627.5 344.4 M355.1 429.6 357.1 427.5 359.9 428.2 359.2 433.7 357.8 435.7 355.1 435.1 354.4 433 355.1 429.6 M361.9 431.6 366.7 429.6 370.8 428.2 371.5 424.8 374.3 424.8 377 426.8 379.7 426.8 381.8 429.6 381.8 433.7 377.7 434.4 373.6 435.1 370.8 435.7 368.1 437.8 364 438.5 361.9 436.4 361.9 431.6 M389.3 428.9 392.8 426.8 396.9 428.2 401 430.9 404.4 431.6 409.2 430.3 412 429.6 413.3 427.5 415.4 424.1 417.5 424.8 416.8 427.5 414.7 429.6 412 432.3 407.9 435.1 403.7 435.7 401 437.1 398.3 435.1 394.1 434.4 390.7 433.7 389.3 430.9 389.3 428.9 M381.8 442.6 385.9 441.9 390.7 442.6 394.1 444.7 396.9 448.1 398.3 450.8 395.5 453.6 392.8 452.2 390 448.8 386.6 447.4 383.2 446.7 381.8 444.7 381.8 442.6 M420.9 427.5 422.9 427.1 424.3 428.5 422.3 429.3 420.9 427.5 M429.8 426.1 435.3 426.8 436.7 427.5 429.8 429.6 429.8 426.1 M442.8 419.3 449 417.2 450.4 418.6 447.6 422.7 443.5 422.7 442.8 419.3 M421.6 452.9 422.3 447.4 424.3 443.3 427.7 440.5 431.9 437.8 435.3 434.4 438 432.3 443.5 430.3 449 428.9 455.2 428.2 454.5 430.9 451.7 433 447.6 435.7 443.5 438.5 439.4 441.9 435.3 446 431.2 450.8 427.7 453.6 422.9 454.9 421.6 452.9 M493.6 411.7 492.9 414.5 491.5 418.6 490.1 422 490.8 422.7 492.9 420 494.3 415.9 494.3 412.4 493.6 411.7 M555.3 408.3 557.3 411.1 558 413.8 553.9 415.2 551.9 418.6 549.8 424.1 548.4 428.2 552.5 428.2 558 425.5 563.5 424.8 569 423.8 571.7 428.2 574.5 433.7 578.6 437.1 582.7 437.8 586.8 438.1 590.3 439.9 593.7 441.1 M480.5 470.7 483.3 469.3 486 470 488.8 468.7 492.2 469.3 492.9 472.1 490.8 475.5 488.1 477.6 486 476.2 482.6 474.8 480.5 473.5 480.5 470.7 M482.6 499.5 481.9 494 483.3 488.5 486.7 483.7 490.8 481.7 496.3 481.7 501.1 481.7 502.5 477.6 501.8 473.5 500.4 470 504.5 471.4 508.7 474.1 511.4 476.2 516.9 478.3 522.4 480.3 526.5 481.7 530.6 480.3 532.7 481.7 533.3 485.1 535.4 483.1 537.5 478.9 540.2 480.3 542.3 483.7 540.9 488.5 538.8 492.7 536.1 494.7 533.3 495.4 532.7 499.5 M593.7 461.8 590.3 461.8 588.2 463.9 587.5 469.3 587.5 474.8 585.5 477.6 584.1 481.7 584.1 488.5 584.1 494 583.8 499.5 M593.7 441.1 595.9 438.5 598.7 435.7 598 431.6 597.3 428.2 600 426.1 602.8 422.7 605.5 418.6 607.6 417 610.3 417.2 613.7 419.3 617.9 422 622 423.4 623.3 426.8 626.1 433.7 630.2 439.2 634.3 444.7 636.4 450.1 639.8 451.5 645.3 452.9 650.8 454.3 654.9 454.9 657.6 457 659 460.4 M631.6 408.3 632.9 413.1 635.7 417.2 639.8 421.3 642.5 424.1 641.9 428.2 642.5 433.7 644.6 437.8 647.3 438.5 650.1 437.1 651.5 439.2 650.8 442.6 653.5 444.7 659 445.8 M583.6 499.5 584.3 491.3 584.3 480.3 587 476.2 587.7 469.3 588.4 465.2 590.4 461.8 592.5 462.5 594.5 464.5 595.2 469.3 595.9 477.6 598 484.4 600 491.3 600.7 499.5 M383.3 585.1 390.2 583.8 397.7 581.7 401.9 577.6 405.3 572.8 407.3 567.3 410.8 561.8 409.4 556.3 409.4 550.2 412.8 545.4 416.9 538.5 419 544 421.7 550.9 425.2 546.7 424.5 542.6 423.8 537.1 424.5 534.4 428.6 536.5 431.3 533 432 528.9 432.7 524.8 436.1 520 437.5 516.6 438.2 513.1 443.7 513.1 M442.3 513.1 443.7 509.7 445.1 508.3 448.5 507.7 451.2 503.5 455.3 503.5 458.1 505.6 460.8 509.7 463.6 513.8 463.6 520.7 467 517.3 470.4 516.6 473.2 518.6 475.9 520.7 478 518.6 478.7 515.2 475.9 512.5 473.9 510.4 475.9 506.3 478 502.2 478.7 499.4 482.1 498.1 482.6 499.4 M532.7 499.4 532.1 508.3 530.1 513.8 529.4 517.9 532.1 521.4 536.3 524.1 537.6 527.5 539 531 544.5 531 547.2 533 551.3 537.8 556.8 541.3 560.9 544 563.7 549.5 M563.7 549.5 566.7 552.9 569.5 555.7 573.6 555 577.7 551.5 578 544 580.4 538.5 582.5 532.3 583.9 523.4 583.9 516.6 583.2 509.7 583.4 502.9 584.3 495.3 M600.3 495.3 600.7 501.5 602.4 508.3 605.1 511.1 609.2 509 612 512.5 616.1 517.3 616.8 523.4 618.1 531.7 618.1 538.5 620.9 544 623.6 548.8 624.3 555 623.6 563.2 625.7 570.1 629.8 574.2 635.3 576.2 638 579.7 641.5 586.5 M390 109.5 390.5 114.6 391.9 120.1 394.1 121.9 395.5 122.3 396.4 119.6 397.8 120.5 398.7 122.3 397.3 125.1 396.4 127.4 396 131 396.9 132.9 398.7 134.2 401 134.7 402.8 133.3 404.7 131.5 406 130.6 407.9 131.9 409.7 133.3 411.5 136.1 412.9 139.3 413.8 141.5 414.1 137.4 414.1 132.9 415.2 132.4 417 134.7 418.8 137.9 420.7 140.6 422.5 143.4 424.3 144.9 426.6 145.2 427.5 144.3 426.1 142 424.3 138.3 423.4 135.1 425.2 133.3 425.2 131.9 421.6 129.7 418.4 127.8 415.6 126.5 413.3 126.9 411.1 128.7 408.8 129.7 406.9 129.2 406 123.7 404.7 118.2 403.7 114.1 403.3 111.8 404.2 109.5 M394.6 137 396.9 136.5 400.1 137.4 402.4 139.3 404.2 142 404.7 145.7 403.7 149.3 402.4 152.1 401 153.4 399.6 151.1 398.3 147.5 396.9 142.9 395.1 139.3 394.6 137 M407.3 158.2 410.5 158.7 413.2 160.1 413.7 161.9 417.8 162.8 418.7 165.5 418.7 169.7 420.5 171.9 421.5 175.6 422.8 174.2 424.7 171 425.6 169.2 426.5 171 426.5 175.6 426.9 180.2 429.2 181.5 430.6 182.9 430.4 186.6 428.8 187.5 426.9 187.5 425.6 186.1 424.7 184.7 422.8 185.2 421 186.6 419.2 186.6 418.7 189.3 418.5 193 417.3 195.7 416 195.3 414.1 192.1 412.3 188.4 411.9 186.6 414.1 184.7 415.5 182 416 178.3 414.1 176.1 412.3 175.6 409.6 176.1 407.3 174.7 407.3 171 408.2 166.5 407.7 161.9 407.3 158.2 M429.7 150 431.5 153.7 432.4 155.5 434.3 158.2 434.7 161.9 432.9 164.2 430.6 164.6 429.7 166.5 430.1 169.2 431.1 171.9 432.4 172.9 432 175.6 432.4 179.3 433.3 180.6 437 180.2 436.5 176.5 435.2 173.8 434.7 171 435.6 169.2 437.9 168.7 441.1 168.7 441.1 166.9 440.7 163.7 439.7 159.1 439.3 154.6 438.8 150 434.3 149.1 429.7 150 M408.7 225.2 408.3 220.6 408.7 216 409.6 211.9 411.9 209.6 414.7 207.8 416 206 417.4 203.2 419.7 201.4 422 200.9 424.3 202.3 425.2 205.1 426.1 207.3 426.5 205.1 428.4 203.7 431.6 202.8 432.9 200 433.9 198.2 436.1 198.7 438 197.3 439.3 195 439.3 186.6 441.6 188.4 444.3 191.1 446.6 195.7 447.5 201.2 448 208.7 449.4 213.3 448.9 218.8 447.6 222.4 446.2 227 444.8 231.1 443.5 225.2 442.5 221.5 441.6 218.8 439.8 221.5 438 226.1 438.9 228.8 440.7 231.6 441.6 235.2 439.8 238.9 438.9 242.1 437.1 239.8 435.2 238 432.5 237.1 429.7 235.2 426.5 231.6 425.6 227.9 426.5 222.4 426.1 218.8 425.2 216.5 423.3 214.2 422 213.3 419.7 215.1 417.9 216.9 416.5 215.1 414.7 213.7 412.8 214.7 411.5 216.9 410.5 220.1 409.6 224.3 408.7 225.2 M411 216.5 413.3 214.2 415.6 214.2 416.5 216.9 414.2 217.4 412.4 217.4 411 216.5 M261.8 405.4 264.5 395.1 269.3 395.8 274.1 394.4 279.6 397.1 286.5 399.9 287.9 401.9 289.2 406.1 296.1 406.7 304.3 408.1 307.1 405.4 308.4 401.9 312.5 404 318 406.1 323.5 408.8 326.3 411.5 326.3 415 327.6 417 333.1 418.4 340 419.8 340.7 425.3 340.7 431.4 334.5 429.4 329 427.3 326.3 427.3 323.5 428 318 426.6 312.5 425.9 307.1 424.6 301.6 421.8 296.1 419.8 292 419.8 287.9 420.5 282.4 419.1 276.9 416.3 271.4 414.3 270 412.9 269.3 410.9 264.5 407.4 261.8 405.4 M326.3 410.2 329 408.8 334.5 408.1 336.5 408.8 334.5 411.5 329 412.2 326.3 411.5 326.3 410.2 M342.7 427.3 345.5 425.9 348.9 425.9 350.9 428.7 348.2 432.8 345.5 431.4 342.7 427.3" fill="none" stroke="#000" stroke-width="2.1" stroke-linejoin="round" stroke-linecap="round"/><ellipse cx="149" cy="139" rx="2.1" ry="4" fill="#000"/>
<path d="M149.2 147.5L146.5 159.5" stroke="#000" stroke-width="4.2" stroke-linecap="round"/>
<path d="M211.5 139L212.3 136.5L215 135.3L218.3 136L219.7 139" stroke="#000" stroke-width="2.1" fill="none" stroke-linejoin="round"/>
<path d="M123.5 215.2L205 215.5L243 217.2L250 217.9L270 217.9L273 219.2L363 220.6L395 219L432 218.6L457 216.5L481 214.5L505 214.7L510 213.8L563 213.8L598 213.8L604 214.7L630 215.5L636 216.5L658.5 218" stroke="#000" stroke-width="2.3" fill="none" stroke-dasharray="7.6 8.35"/>
<path d="M360.8 228.8L363.4 223.8L366 224.3L368.7 228.8" stroke="#000" stroke-width="2.1" fill="none" stroke-linejoin="round"/>
<path d="M483 319L486 316.5L490 318L490.5 321L487 322.5L484 321.5Z" stroke="#000" stroke-width="2" fill="none" stroke-linejoin="round"/>
<path d="M310.4 49L310.7 51.9L309.6 54.6L307.7 57.3L306.4 59.9L305.6 64.2L303.5 67.4L300.8 70.1L298.1 71.7L294.9 71.9L291.7 70.6L289.9 68.5L289.3 65.3L289.3 61L289.6 57.8L292.3 55.1L294.9 52.5L297.1 50.3L299.7 49Z" stroke="#000" stroke-width="2.1" fill="none" stroke-linejoin="round"/>
</g><path d="M123.5 585.5V580M123.5 49.5V55M212.5 585.5V580M212.5 49.5V55M301.5 585.5V580M301.5 49.5V55M390.5 585.5V580M390.5 49.5V55M480.5 585.5V580M480.5 49.5V55M569.5 585.5V580M569.5 49.5V55M658.5 585.5V580M658.5 49.5V55M123.5 49.5H129M658.5 49.5H653M123.5 116.5H129M658.5 116.5H653M123.5 183.5H129M658.5 183.5H653M123.5 250.5H129M658.5 250.5H653M123.5 317.5H129M658.5 317.5H653M123.5 384.5H129M658.5 384.5H653M123.5 451.5H129M658.5 451.5H653M123.5 518.5H129M658.5 518.5H653M123.5 585.5H129M658.5 585.5H653" stroke="#262626" stroke-width="1" fill="none"/><rect x="123.5" y="49.5" width="535" height="536" fill="none" stroke="#262626" stroke-width="1"/><text transform="translate(123.1 615.2) scale(1 1.1)" font-size="20.8" fill="#262626" text-anchor="middle">90</text><text transform="translate(212.1 615.2) scale(1 1.1)" font-size="20.8" fill="#262626" text-anchor="middle">100</text><text transform="translate(301.1 615.2) scale(1 1.1)" font-size="20.8" fill="#262626" text-anchor="middle">110</text><text transform="translate(390.1 615.2) scale(1 1.1)" font-size="20.8" fill="#262626" text-anchor="middle">120</text><text transform="translate(480.1 615.2) scale(1 1.1)" font-size="20.8" fill="#262626" text-anchor="middle">130</text><text transform="translate(569.1 615.2) scale(1 1.1)" font-size="20.8" fill="#262626" text-anchor="middle">140</text><text transform="translate(658.1 615.2) scale(1 1.1)" font-size="20.8" fill="#262626" text-anchor="middle">150</text><text transform="translate(113.2 57.9) scale(1 1.1)" font-size="20.8" fill="#262626" text-anchor="end">20</text><text transform="translate(113.2 124.9) scale(1 1.1)" font-size="20.8" fill="#262626" text-anchor="end">15</text><text transform="translate(113.2 191.9) scale(1 1.1)" font-size="20.8" fill="#262626" text-anchor="end">10</text><text transform="translate(113.2 258.9) scale(1 1.1)" font-size="20.8" fill="#262626" text-anchor="end">5</text><text transform="translate(113.2 325.9) scale(1 1.1)" font-size="20.8" fill="#262626" text-anchor="end">0</text><text transform="translate(113.2 392.9) scale(1 1.1)" font-size="20.8" fill="#262626" text-anchor="end">-5</text><text transform="translate(113.2 459.9) scale(1 1.1)" font-size="20.8" fill="#262626" text-anchor="end">-10</text><text transform="translate(113.2 526.9) scale(1 1.1)" font-size="20.8" fill="#262626" text-anchor="end">-15</text><text transform="translate(113.2 593.9) scale(1 1.1)" font-size="20.8" fill="#262626" text-anchor="end">-20</text><text transform="translate(287.9 646) scale(1 1.12)" font-size="23.2" fill="#262626">Geographic Lon.</text><text x="464.1" y="646" font-size="23.1" fill="#262626">(</text><text x="483.3" y="646" font-size="23.1" fill="#262626">)</text><circle cx="477.5" cy="633.7" r="3" fill="none" stroke="#262626" stroke-width="1.1"/><g transform="translate(71.6 413.5) rotate(-90)"><text x="-1" y="0" transform="scale(1 1.12)" font-size="23.0" fill="#262626">Geographic Lat.</text><text x="169.5" y="0" font-size="23.1" fill="#262626">(</text><text x="187.4" y="0" font-size="23.1" fill="#262626">)</text><circle cx="181.1" cy="-13.1" r="3" fill="none" stroke="#262626" stroke-width="1.1"/></g><text transform="translate(390 39.7) scale(1 1.115)" font-size="23.1" font-weight="bold" fill="#000" text-anchor="middle">11-Oct-2025; 00:00 UT</text><defs><linearGradient id="cbg" x1="0" y1="1" x2="0" y2="0"><stop offset="0.0000%" stop-color="#00008f"/><stop offset="1.5625%" stop-color="#00008f"/><stop offset="1.5625%" stop-color="#00009f"/><stop offset="3.1250%" stop-color="#00009f"/><stop offset="3.1250%" stop-color="#0000af"/><stop offset="4.6875%" stop-color="#0000af"/><stop offset="4.6875%" stop-color="#0000bf"/><stop offset="6.2500%" stop-color="#0000bf"/><stop offset="6.2500%" stop-color="#0000cf"/><stop offset="7.8125%" stop-color="#0000cf"/><stop offset="7.8125%" stop-color="#0000df"/><stop offset="9.3750%" stop-color="#0000df"/><stop offset="9.3750%" stop-color="#0000ef"/><stop offset="10.9375%" stop-color="#0000ef"/><stop offset="10.9375%" stop-color="#0000ff"/><stop offset="12.5000%" stop-color="#0000ff"/><stop offset="12.5000%" stop-color="#0010ff"/><stop offset="14.0625%" stop-color="#0010ff"/><stop offset="14.0625%" stop-color="#0020ff"/><stop offset="15.6250%" stop-color="#0020ff"/><stop offset="15.6250%" stop-color="#0030ff"/><stop offset="17.1875%" stop-color="#0030ff"/><stop offset="17.1875%" stop-color="#0040ff"/><stop offset="18.7500%" stop-color="#0040ff"/><stop offset="18.7500%" stop-color="#0050ff"/><stop offset="20.3125%" stop-color="#0050ff"/><stop offset="20.3125%" stop-color="#0060ff"/><stop offset="21.8750%" stop-color="#0060ff"/><stop offset="21.8750%" stop-color="#0070ff"/><stop offset="23.4375%" stop-color="#0070ff"/><stop offset="23.4375%" stop-color="#0080ff"/><stop offset="25.0000%" stop-color="#0080ff"/><stop offset="25.0000%" stop-color="#008fff"/><stop offset="26.5625%" stop-color="#008fff"/><stop offset="26.5625%" stop-color="#009fff"/><stop offset="28.1250%" stop-color="#009fff"/><stop offset="28.1250%" stop-color="#00afff"/><stop offset="29.6875%" stop-color="#00afff"/><stop offset="29.6875%" stop-color="#00bfff"/><stop offset="31.2500%" stop-color="#00bfff"/><stop offset="31.2500%" stop-color="#00cfff"/><stop offset="32.8125%" stop-color="#00cfff"/><stop offset="32.8125%" stop-color="#00dfff"/><stop offset="34.3750%" stop-color="#00dfff"/><stop offset="34.3750%" stop-color="#00efff"/><stop offset="35.9375%" stop-color="#00efff"/><stop offset="35.9375%" stop-color="#00ffff"/><stop offset="37.5000%" stop-color="#00ffff"/><stop offset="37.5000%" stop-color="#10ffef"/><stop offset="39.0625%" stop-color="#10ffef"/><stop offset="39.0625%" stop-color="#20ffdf"/><stop offset="40.6250%" stop-color="#20ffdf"/><stop offset="40.6250%" stop-color="#30ffcf"/><stop offset="42.1875%" stop-color="#30ffcf"/><stop offset="42.1875%" stop-color="#40ffbf"/><stop offset="43.7500%" stop-color="#40ffbf"/><stop offset="43.7500%" stop-color="#50ffaf"/><stop offset="45.3125%" stop-color="#50ffaf"/><stop offset="45.3125%" stop-color="#60ff9f"/><stop offset="46.8750%" stop-color="#60ff9f"/><stop offset="46.8750%" stop-color="#70ff8f"/><stop offset="48.4375%" stop-color="#70ff8f"/><stop offset="48.4375%" stop-color="#80ff80"/><stop offset="50.0000%" stop-color="#80ff80"/><stop offset="50.0000%" stop-color="#8fff70"/><stop offset="51.5625%" stop-color="#8fff70"/><stop offset="51.5625%" stop-color="#9fff60"/><stop offset="53.1250%" stop-color="#9fff60"/><stop offset="53.1250%" stop-color="#afff50"/><stop offset="54.6875%" stop-color="#afff50"/><stop offset="54.6875%" stop-color="#bfff40"/><stop offset="56.2500%" stop-color="#bfff40"/><stop offset="56.2500%" stop-color="#cfff30"/><stop offset="57.8125%" stop-color="#cfff30"/><stop offset="57.8125%" stop-color="#dfff20"/><stop offset="59.3750%" stop-color="#dfff20"/><stop offset="59.3750%" stop-color="#efff10"/><stop offset="60.9375%" stop-color="#efff10"/><stop offset="60.9375%" stop-color="#ffff00"/><stop offset="62.5000%" stop-color="#ffff00"/><stop offset="62.5000%" stop-color="#ffef00"/><stop offset="64.0625%" stop-color="#ffef00"/><stop offset="64.0625%" stop-color="#ffdf00"/><stop offset="65.6250%" stop-color="#ffdf00"/><stop offset="65.6250%" stop-color="#ffcf00"/><stop offset="67.1875%" stop-color="#ffcf00"/><stop offset="67.1875%" stop-color="#ffbf00"/><stop offset="68.7500%" stop-color="#ffbf00"/><stop offset="68.7500%" stop-color="#ffaf00"/><stop offset="70.3125%" stop-color="#ffaf00"/><stop offset="70.3125%" stop-color="#ff9f00"/><stop offset="71.8750%" stop-color="#ff9f00"/><stop offset="71.8750%" stop-color="#ff8f00"/><stop offset="73.4375%" stop-color="#ff8f00"/><stop offset="73.4375%" stop-color="#ff8000"/><stop offset="75.0000%" stop-color="#ff8000"/><stop offset="75.0000%" stop-color="#ff7000"/><stop offset="76.5625%" stop-color="#ff7000"/><stop offset="76.5625%" stop-color="#ff6000"/><stop offset="78.1250%" stop-color="#ff6000"/><stop offset="78.1250%" stop-color="#ff5000"/><stop offset="79.6875%" stop-color="#ff5000"/><stop offset="79.6875%" stop-color="#ff4000"/><stop offset="81.2500%" stop-color="#ff4000"/><stop offset="81.2500%" stop-color="#ff3000"/><stop offset="82.8125%" stop-color="#ff3000"/><stop offset="82.8125%" stop-color="#ff2000"/><stop offset="84.3750%" stop-color="#ff2000"/><stop offset="84.3750%" stop-color="#ff1000"/><stop offset="85.9375%" stop-color="#ff1000"/><stop offset="85.9375%" stop-color="#ff0000"/><stop offset="87.5000%" stop-color="#ff0000"/><stop offset="87.5000%" stop-color="#ef0000"/><stop offset="89.0625%" stop-color="#ef0000"/><stop offset="89.0625%" stop-color="#df0000"/><stop offset="90.6250%" stop-color="#df0000"/><stop offset="90.6250%" stop-color="#cf0000"/><stop offset="92.1875%" stop-color="#cf0000"/><stop offset="92.1875%" stop-color="#bf0000"/><stop offset="93.7500%" stop-color="#bf0000"/><stop offset="93.7500%" stop-color="#af0000"/><stop offset="95.3125%" stop-color="#af0000"/><stop offset="95.3125%" stop-color="#9f0000"/><stop offset="96.8750%" stop-color="#9f0000"/><stop offset="96.8750%" stop-color="#8f0000"/><stop offset="98.4375%" stop-color="#8f0000"/><stop offset="98.4375%" stop-color="#800000"/><stop offset="100.0000%" stop-color="#800000"/></linearGradient></defs><rect x="697.5" y="49.5" width="42" height="536" fill="url(#cbg)"/><path d="M739.5 585.5H733.5M739.5 531.9H733.5M739.5 478.3H733.5M739.5 424.7H733.5M739.5 371.1H733.5M739.5 317.5H733.5M739.5 263.9H733.5M739.5 210.3H733.5M739.5 156.7H733.5M739.5 103.1H733.5M739.5 49.5H733.5" stroke="#262626" stroke-width="1" fill="none"/><rect x="697.5" y="49.5" width="42" height="536" fill="none" stroke="#262626" stroke-width="1"/><text transform="translate(747.8 592.9) scale(1 1.11)" font-size="18.5" fill="#262626">0</text><text transform="translate(747.8 539.3) scale(1 1.11)" font-size="18.5" fill="#262626">10</text><text transform="translate(747.8 485.7) scale(1 1.11)" font-size="18.5" fill="#262626">20</text><text transform="translate(747.8 432.1) scale(1 1.11)" font-size="18.5" fill="#262626">30</text><text transform="translate(747.8 378.5) scale(1 1.11)" font-size="18.5" fill="#262626">40</text><text transform="translate(747.8 324.9) scale(1 1.11)" font-size="18.5" fill="#262626">50</text><text transform="translate(747.8 271.3) scale(1 1.11)" font-size="18.5" fill="#262626">60</text><text transform="translate(747.8 217.7) scale(1 1.11)" font-size="18.5" fill="#262626">70</text><text transform="translate(747.8 164.1) scale(1 1.11)" font-size="18.5" fill="#262626">80</text><text transform="translate(747.8 110.5) scale(1 1.11)" font-size="18.5" fill="#262626">90</text><text transform="translate(747.8 56.9) scale(1 1.11)" font-size="18.5" fill="#262626">100</text><text transform="translate(806 316.7) rotate(-90) scale(1 1.1)" font-size="19.4" fill="#262626" text-anchor="middle">Total Electron Content (TECU)</text></svg></body></html>
